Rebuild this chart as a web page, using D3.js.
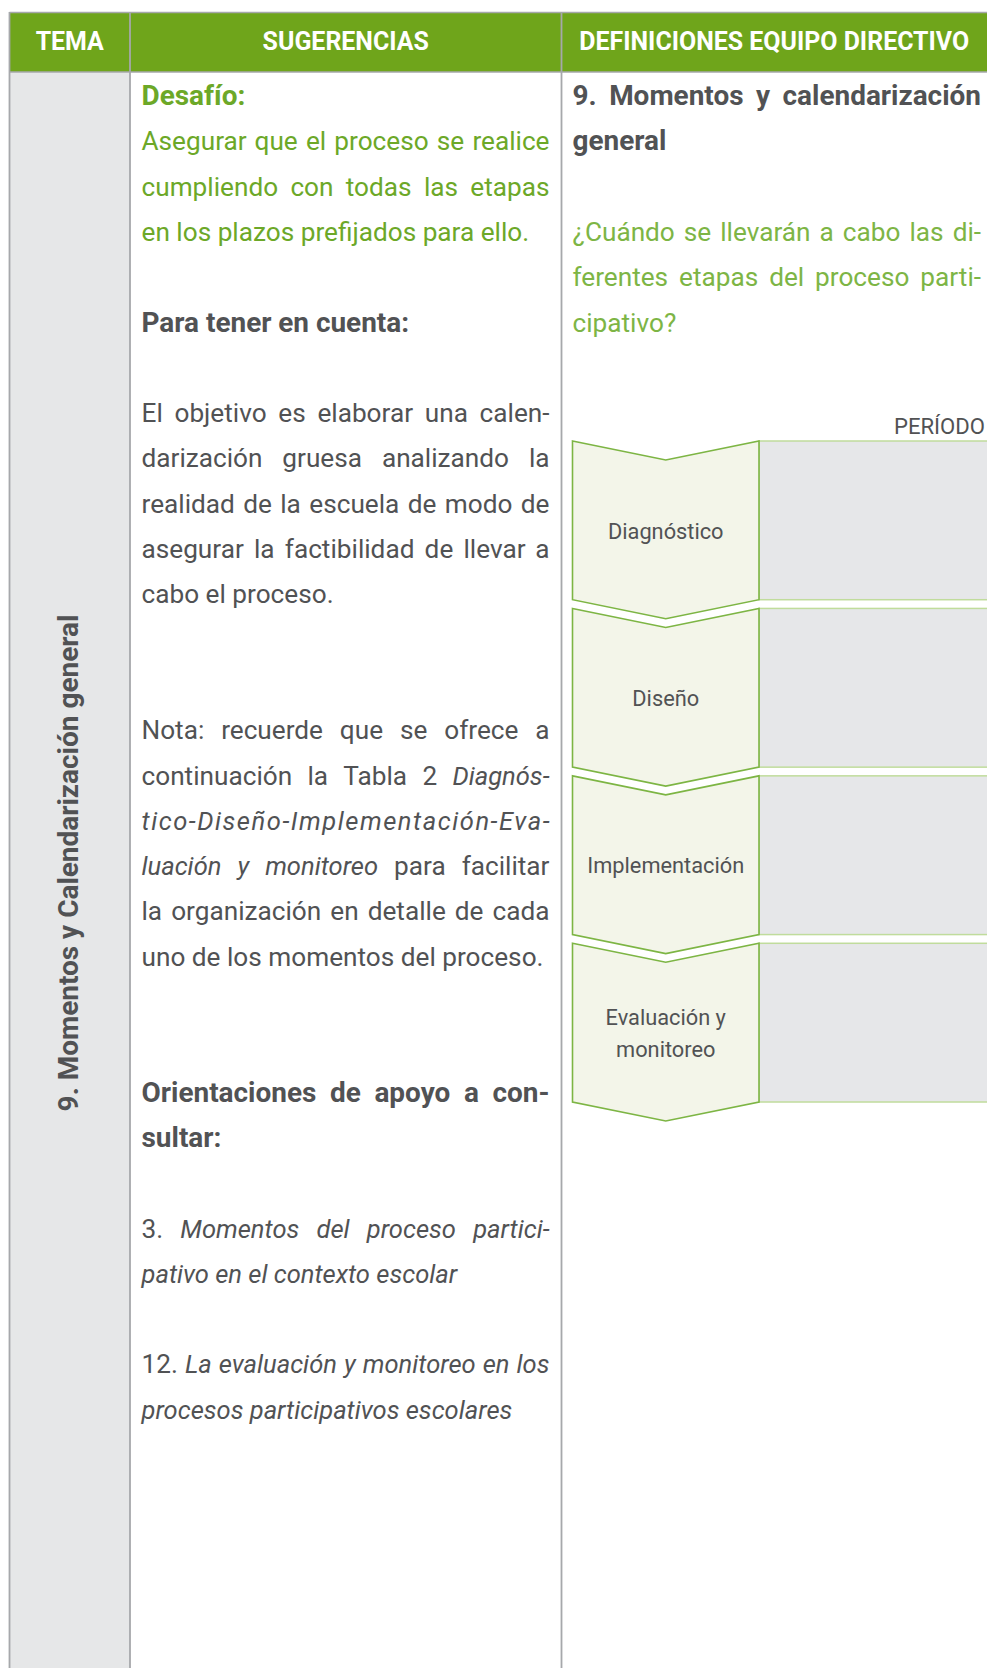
<!DOCTYPE html>
<html><head><meta charset="utf-8">
<script src="https://cdn.jsdelivr.net/npm/d3@7"></script>
<style>html,body{margin:0;padding:0;background:#fff;} svg{display:block;}</style>
</head><body>
<script>
// ---------- data ----------
const headers = ["TEMA", "SUGERENCIAS", "DEFINICIONES EQUIPO DIRECTIVO"];
const temaLabel = "9. Momentos y Calendarización general";
// segments: [text, style]  r = regular, b = bold, i = italic
const sugerenciasLines = [
  {line: 0,  color: "green", justify: false, segs: [["Desafío:", "b"]]},
  {line: 1,  color: "green", justify: true,  segs: [["Asegurar que el proceso se realice", "r"]]},
  {line: 2,  color: "green", justify: true,  segs: [["cumpliendo con todas las etapas", "r"]]},
  {line: 3,  color: "green", justify: false, segs: [["en los plazos prefijados para ello.", "r"]]},
  {line: 5,  color: "gray",  justify: false, segs: [["Para tener en cuenta:", "b"]]},
  {line: 7,  color: "gray",  justify: true,  segs: [["El objetivo es elaborar una calen-", "r"]]},
  {line: 8,  color: "gray",  justify: true,  segs: [["darización gruesa analizando la", "r"]]},
  {line: 9,  color: "gray",  justify: true,  segs: [["realidad de la escuela de modo de", "r"]]},
  {line: 10, color: "gray",  justify: true,  segs: [["asegurar la factibilidad de llevar a", "r"]]},
  {line: 11, color: "gray",  justify: false, segs: [["cabo el proceso.", "r"]]},
  {line: 14, color: "gray",  justify: true,  segs: [["Nota: recuerde que se ofrece a", "r"]]},
  {line: 15, color: "gray",  justify: true,  segs: [["continuación la Tabla 2", "r"], ["Diagnós-", "i"]]},
  {line: 16, color: "gray",  justify: true,  segs: [["tico-Diseño-Implementación-Eva-", "i"]]},
  {line: 17, color: "gray",  justify: true,  segs: [["luación y monitoreo", "i"], ["para facilitar", "r"]]},
  {line: 18, color: "gray",  justify: true,  segs: [["la organización en detalle de cada", "r"]]},
  {line: 19, color: "gray",  justify: false, segs: [["uno de los momentos del proceso.", "r"]]},
  {line: 22, color: "gray",  justify: true,  segs: [["Orientaciones de apoyo a con-", "b"]]},
  {line: 23, color: "gray",  justify: false, segs: [["sultar:", "b"]]},
  {line: 25, color: "gray",  justify: true,  segs: [["3.", "r"], ["Momentos del proceso partici-", "i"]]},
  {line: 26, color: "gray",  justify: false, segs: [["pativo en el contexto escolar", "i"]]},
  {line: 28, color: "gray",  justify: true,  segs: [["12.", "r"], ["La evaluación y monitoreo en los", "i"]]},
  {line: 29, color: "gray",  justify: false, segs: [["procesos participativos escolares", "i"]]}
];
const definicionesLines = [
  {line: 0, color: "gray",   justify: true,  segs: [["9. Momentos y calendarización", "b"]]},
  {line: 1, color: "gray",   justify: false, segs: [["general", "b"]]},
  {line: 3, color: "green2", justify: true,  segs: [["¿Cuándo se llevarán a cabo las di-", "r"]]},
  {line: 4, color: "green2", justify: true,  segs: [["ferentes etapas del proceso parti-", "r"]]},
  {line: 5, color: "green2", justify: false, segs: [["cipativo?", "r"]]}
];
const periodLabel = "PERÍODO";
const stages = [["Diagnóstico"], ["Diseño"], ["Implementación"], ["Evaluación y", "monitoreo"]];

// ---------- styles ----------
const W = 987, H = 1668;
const FONT = "Roboto, 'Open Sans', sans-serif";
const colors = {green: "#6ca828", green2: "#7db545", gray: "#515254", header: "#6fa51b",
  white: "#ffffff", border: "#a6a8ab", tema: "#e6e7e8", chevFill: "#f3f5e9", chevStroke: "#7db544",
  boxFill: "#e6e7e9", boxStroke: "#c0dc9c"};

const svg = d3.select("body").append("svg").attr("width", W).attr("height", H)
  .style("font-family", FONT);

// measurement helper
const meas = svg.append("text").attr("x", -9999).attr("y", -9999);
function measure(txt, weight, italic, size) {
  meas.text(txt).attr("font-size", size).attr("font-weight", weight)
      .attr("font-style", italic ? "italic" : "normal");
  return meas.node().getComputedTextLength();
}
function fit(txt, weight, italic, target) {
  return 100 * target / measure(txt, weight, italic, 100);
}
const sizes = {
  r: fit("en los plazos prefijados para ello.", "normal", false, 388),
  b: fit("Para tener en cuenta:", "bold", false, 268),
  i: fit("procesos participativos escolares", "normal", true, 371)
};
const styleOf = {r: {w: "normal", it: false}, b: {w: "bold", it: false}, i: {w: "normal", it: true}};
const headerSize = fit(headers[2], "bold", false, 390);
const temaSize = fit(temaLabel, "bold", false, 497);
const stageSize = fit("Implementación", "normal", false, 157);
const periodSize = fit(periodLabel, "normal", false, 91);

// ---------- scales ----------
const yLine = d3.scaleLinear().domain([0, 1]).range([105, 150.3]);
const yStage = d3.scaleBand().domain(stages.map(s => s.join(" "))).range([441, 1102]).paddingInner(0.052).paddingOuter(0);
const colX = [9.5, 130, 561.5, W];

// ---------- table background ----------
svg.append("rect").attr("x", colX[0]).attr("y", 72).attr("width", colX[1] - colX[0]).attr("height", H - 72)
  .attr("fill", colors.tema);
svg.append("rect").attr("x", colX[0]).attr("y", 12.5).attr("width", W - colX[0]).attr("height", 59.5)
  .attr("fill", colors.header);
svg.append("line").attr("x1", colX[0]).attr("x2", W).attr("y1", 12.5).attr("y2", 12.5)
  .attr("stroke", colors.border).attr("stroke-width", 1.5);
svg.append("line").attr("x1", colX[0]).attr("x2", W).attr("y1", 72).attr("y2", 72)
  .attr("stroke", colors.border).attr("stroke-width", 1.5);
svg.selectAll("line.col").data(colX.slice(0, 3)).join("line").attr("class", "col")
  .attr("x1", d => d).attr("x2", d => d).attr("y1", 12).attr("y2", H)
  .attr("stroke", colors.border).attr("stroke-width", 1.8);

// header labels
svg.selectAll("text.hdr").data(headers).join("text").attr("class", "hdr")
  .attr("x", (d, i) => (colX[i] + colX[i + 1]) / 2).attr("y", 50)
  .attr("text-anchor", "middle").attr("fill", colors.white)
  .attr("font-weight", "bold").attr("font-size", headerSize).text(d => d);

// tema vertical label
svg.append("text").attr("transform", "translate(77.5,863) rotate(-90)")
  .attr("text-anchor", "middle").attr("fill", colors.gray).attr("font-weight", "bold")
  .attr("font-size", temaSize).text(temaLabel);

// ---------- paragraph lines ----------
function spaceW(st) {
  const s = styleOf[st];
  return measure("n n", s.w, s.it, sizes[st]) - measure("nn", s.w, s.it, sizes[st]);
}
function drawLines(lines, x0, x1) {
  lines.forEach(L => {
    const words = [];
    L.segs.forEach(([txt, st]) => txt.split(" ").filter(w => w).forEach(w => words.push({w, st})));
    const t = svg.append("text").attr("y", yLine(L.line)).attr("fill", colors[L.color]);
    const tsp = t.selectAll("tspan").data(words).join("tspan")
      .attr("font-size", d => sizes[d.st])
      .attr("font-weight", d => styleOf[d.st].w)
      .attr("font-style", d => styleOf[d.st].it ? "italic" : "normal")
      .text(d => d.w);
    const widths = tsp.nodes().map(n => n.getComputedTextLength());
    const sum = d3.sum(widths);
    if (L.justify && words.length === 1) {
      // single long word: spread the letters to the full measure
      t.attr("x", x0).attr("textLength", x1 - x0).attr("lengthAdjust", "spacing");
      tsp.attr("x", null);
      return;
    }
    let x = x0;
    tsp.each(function (d, i) {
      d3.select(this).attr("x", x);
      const gap = (L.justify && words.length > 1) ? (x1 - x0 - sum) / (words.length - 1) : spaceW(d.st);
      x += widths[i] + gap;
    });
  });
}
drawLines(sugerenciasLines, 141.5, 549.5);
drawLines(definicionesLines, 572.5, 981);

// ---------- stages ----------
svg.append("text").attr("x", 985).attr("y", 434).attr("text-anchor", "end")
  .attr("fill", colors.gray).attr("font-size", periodSize).text(periodLabel);

const chevL = 572.5, chevR = 759, notch = 19;
const chevM = (chevL + chevR) / 2;
const sg = svg.selectAll("g.stage").data(stages).join("g").attr("class", "stage");
sg.append("rect")
  .attr("x", chevR).attr("y", d => yStage(d.join(" ")))
  .attr("width", W - chevR + 5).attr("height", yStage.bandwidth())
  .attr("fill", colors.boxFill).attr("stroke", colors.boxStroke).attr("stroke-width", 1.5);
sg.append("path")
  .attr("d", d => {
    const y0 = yStage(d.join(" ")), y1 = y0 + yStage.bandwidth();
    return `M${chevL},${y0} L${chevM},${y0 + notch} L${chevR},${y0} L${chevR},${y1} L${chevM},${y1 + notch} L${chevL},${y1} Z`;
  })
  .attr("fill", colors.chevFill).attr("stroke", colors.chevStroke).attr("stroke-width", 1.6)
  .attr("stroke-linejoin", "miter");
sg.each(function (d) {
  const y0 = yStage(d.join(" "));
  const base = d.length === 1 ? y0 + 97.5 : y0 + 82;
  d3.select(this).selectAll("text").data(d).join("text")
    .attr("x", chevM).attr("y", (t, i) => base + i * 31.5)
    .attr("text-anchor", "middle").attr("fill", colors.gray)
    .attr("font-size", stageSize).text(t => t);
});
meas.remove();
</script>
</body></html>
